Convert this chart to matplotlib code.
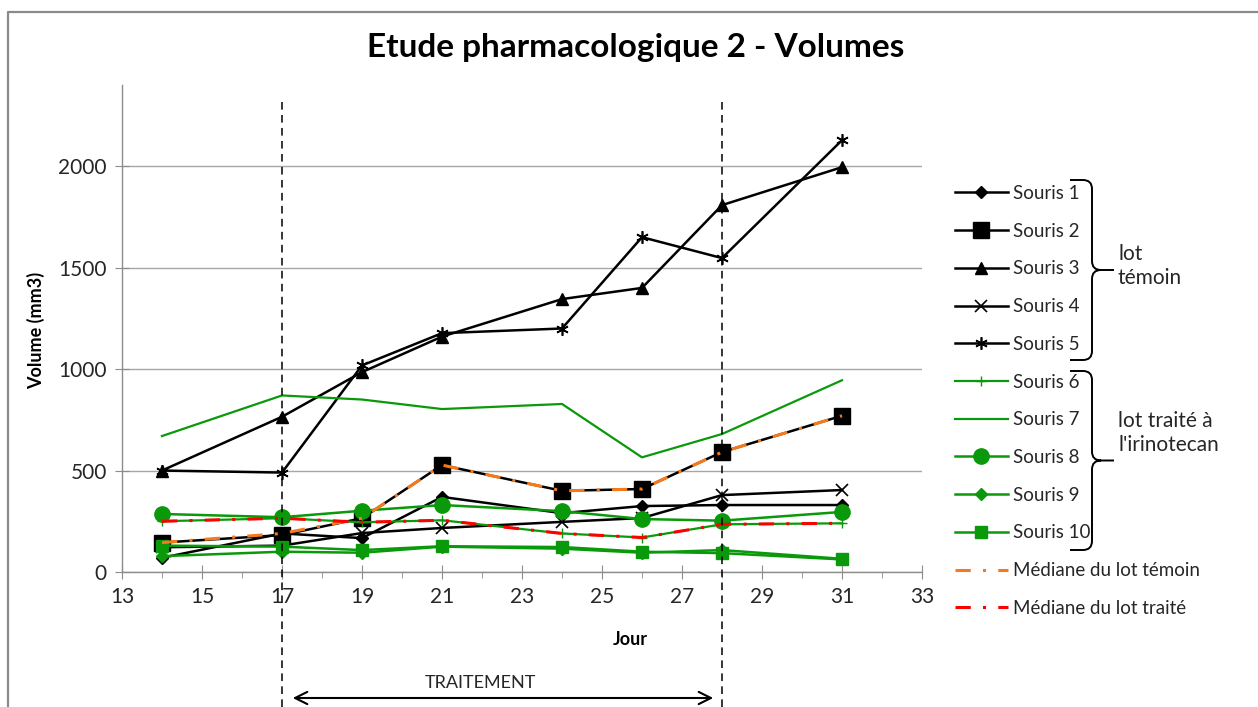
import numpy as np
import matplotlib
matplotlib.use("Agg")
import matplotlib.pyplot as plt
from matplotlib.path import Path
import matplotlib.patches as patches

plt.rcParams['font.family'] = ['Lato', 'DejaVu Sans']

# jours de mesure
jours = [14, 17, 19, 21, 24, 26, 28, 31]

# lot temoin
souris1 = [70, 190, 167, 370, 290, 325, 330, 330]
souris2 = [145, 182, 265, 527, 400, 409, 591, 770]
souris3 = [500, 765, 985, 1160, 1345, 1400, 1808, 1995]
souris4 = [122, 130, 192, 217, 247, 266, 379, 404]
souris5 = [500, 490, 1018, 1177, 1200, 1650, 1547, 2128]

# lot traite a l'irinotecan
souris6 = [250, 265, 245, 255, 190, 170, 235, 240]
souris7 = [670, 870, 850, 803, 828, 565, 680, 945]
souris8 = [286, 270, 302, 330, 300, 261, 253, 296]
souris9 = [78, 100, 95, 125, 115, 95, 108, 65]
souris10 = [130, 125, 108, 127, 123, 100, 93, 62]

mediane_temoin = [145, 190, 265, 527, 400, 409, 591, 770]
mediane_traite = [250, 265, 245, 255, 190, 170, 235, 240]

debut_traitement = 17
fin_traitement = 28

noir = 'black'
vert = '#0a990a'
orange = '#f57a1e'
rouge = '#ff0000'

W, H = 1258, 707
fig = plt.figure(figsize=(W / 100, H / 100), dpi=100)
ax = fig.add_axes([122 / W, (H - 572) / H, 800 / W, 487 / H])

lw = 1.8
ax.plot(jours, souris1, color=noir, lw=lw, marker='D', ms=6, label='Souris 1')
ax.plot(jours, souris2, color=noir, lw=lw, marker='s', ms=11.5, label='Souris 2')
ax.plot(jours, souris3, color=noir, lw=lw, marker='^', ms=8.5, label='Souris 3')
ax.plot(jours, souris4, color=noir, lw=lw, marker='x', ms=8, mew=1.2, label='Souris 4')
ax.plot(jours, souris5, color=noir, lw=lw, marker=(6, 2, 0), ms=9, mew=1.2, label='Souris 5')
ax.plot(jours, souris6, color=vert, lw=1.6, marker='+', ms=7, mew=1, label='Souris 6')
ax.plot(jours, souris7, color=vert, lw=1.6, label='Souris 7')
ax.plot(jours, souris8, color=vert, lw=lw, marker='o', ms=11, label='Souris 8')
ax.plot(jours, souris9, color=vert, lw=lw, marker='D', ms=6, label='Souris 9')
ax.plot(jours, souris10, color=vert, lw=lw, marker='s', ms=8, label='Souris 10')
ax.plot(jours, mediane_temoin, color=orange, lw=2.2, ls=(0, (5, 4, 1, 4)),
        label='Médiane du lot témoin')
ax.plot(jours, mediane_traite, color=rouge, lw=2.2, ls=(0, (5, 4, 1, 4)),
        label='Médiane du lot traité')

ax.set_xlim(13, 33)
ax.set_ylim(0, 2400)
ax.set_xticks(np.arange(13, 34, 2))
ax.set_xticks(np.arange(13, 34, 1), minor=True)
ax.set_yticks([0, 500, 1000, 1500, 2000])
ax.grid(axis='y', color='#a6a6a6', lw=1)
ax.set_axisbelow(True)
for s in ['top', 'right']:
    ax.spines[s].set_visible(False)
for s in ['left', 'bottom']:
    ax.spines[s].set_color('#8c8c8c')
    ax.spines[s].set_linewidth(1)
ax.tick_params(axis='both', which='major', direction='inout', length=10,
               color='#8c8c8c', labelsize=15, labelcolor='#262626')
ax.tick_params(axis='x', which='minor', direction='out', length=4, color='#8c8c8c')
ax.tick_params(axis='x', which='major', pad=6)
ax.tick_params(axis='y', which='major', pad=6)

ax.set_xlabel('Jour', fontsize=13, fontweight='bold')
ax.xaxis.set_label_coords((630 - 122) / 800, (572 - 631) / 487)
ax.set_ylabel('Volume (mm3)', fontsize=13, fontweight='bold')
ax.yaxis.set_label_coords((45 - 122) / 800, (572 - 330) / 487)

# lignes de debut / fin du traitement
for j in [debut_traitement, fin_traitement]:
    ax.axvline(j, ymin=(572 - 707) / 487, ymax=(572 - 100) / 487, color='black',
               lw=1.1, ls=(0, (5, 3.5)), clip_on=False, zorder=5)

ax.annotate('', xy=(fin_traitement - 0.15, (572 - 698) / 487),
            xytext=(debut_traitement + 0.2, (572 - 698) / 487),
            xycoords=('data', 'axes fraction'), textcoords=('data', 'axes fraction'),
            arrowprops=dict(arrowstyle='<->', lw=1.5, color='black', mutation_scale=22))
ax.text(21.95, (572 - 683) / 487, 'TRAITEMENT', transform=ax.get_xaxis_transform(),
        ha='center', va='center', fontsize=13, color='#262626')

fig.text(0.505, 1 - 48 / H, 'Etude pharmacologique 2 - Volumes', ha='center',
         va='center', fontsize=24, fontweight='bold')

leg = ax.legend(loc='upper left', bbox_to_anchor=(955 / W, 1 - 185 / H),
                bbox_transform=fig.transFigure, frameon=False, fontsize=13.5,
                handlelength=2.8, handletextpad=0.3, labelspacing=1.105,
                borderpad=0, borderaxespad=0)
for t in leg.get_texts():
    t.set_color('#262626')

# calque en pixels pour les accolades et le cadre
ov = fig.add_axes([0, 0, 1, 1])
ov.set_xlim(0, W)
ov.set_ylim(H, 0)
ov.axis('off')


def accolade(axe, x, y0, y1, w=22, tip=22, r=9):
    ym = (y0 + y1) / 2
    verts = [(x - w, y0), (x - r, y0), (x, y0), (x, y0 + r),
             (x, ym - r), (x, ym), (x + r, ym), (x + tip, ym),
             (x + r, ym), (x, ym), (x, ym + r),
             (x, y1 - r), (x, y1), (x - r, y1), (x - w, y1)]
    codes = [Path.MOVETO, Path.LINETO, Path.CURVE3, Path.CURVE3,
             Path.LINETO, Path.CURVE3, Path.CURVE3, Path.LINETO,
             Path.MOVETO, Path.CURVE3, Path.CURVE3,
             Path.LINETO, Path.CURVE3, Path.CURVE3, Path.LINETO]
    axe.add_patch(patches.PathPatch(Path(verts, codes), fill=False, lw=1.4,
                                    edgecolor='black'))


accolade(ov, 1092, 180, 360)
accolade(ov, 1092, 371, 550)
ov.text(1118, 266, 'lot\ntémoin', fontsize=15, va='center', ha='left',
        color='#262626', linespacing=1.3)
ov.text(1118, 433, "lot traité à\nl'irinotecan", fontsize=15, va='center',
        ha='left', color='#262626', linespacing=1.3)

ov.plot([8, 8, W], [H, 12, 12], color='#8a8a8a', lw=1.6)

fig.savefig('out.png', dpi=100)
